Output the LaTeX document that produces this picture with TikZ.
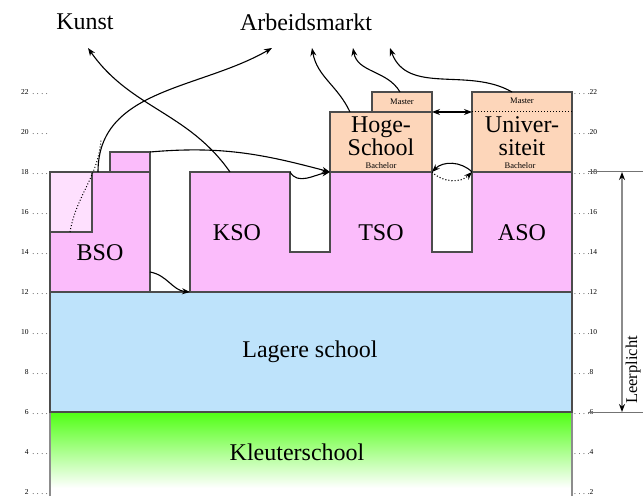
\documentclass[tikz,border=0pt]{standalone}
\usepackage{fontspec}
\setmainfont{Liberation Serif}
\usetikzlibrary{arrows.meta}

\definecolor{sopink}{RGB}{251,188,251}
\definecolor{solicht}{RGB}{254,224,254}
\definecolor{lagerblauw}{RGB}{190,227,251}
\definecolor{kleutergroen}{RGB}{80,255,20}
\definecolor{hogerzalm}{RGB}{253,214,186}
\newcommand{\groot}{\fontsize{24}{23}\selectfont}
\newcommand{\klein}{\fontsize{7.5}{8}\selectfont}
\newcommand{\mini}{\fontsize{8.5}{9}\selectfont}
\newcommand{\tickdots}{.\hspace{2.6pt}.\hspace{2.6pt}.\hspace{2.6pt}.}

\tikzset{
  blok/.style={draw=black!70, line width=1.3pt},
  pijl/.style={-{Stealth[length=8pt,width=6pt]}, line width=1.1pt},
  dubbel/.style={{Stealth[length=8pt,width=6pt]}-{Stealth[length=8pt,width=6pt]}, line width=1.1pt},
  stippel/.style={dotted, line width=1pt},
}

\begin{document}
\begin{tikzpicture}[x=20pt, y=20pt]
\useasboundingbox (0,1.8) rectangle (32.15,26.6);
\fill[white] (0,1.8) rectangle (32.15,26.6);

% kleuterschool, van groen naar wit
\shade[top color=kleutergroen, bottom color=white] (2.5,2.2) rectangle (28.6,6);
\draw[black!45, line width=1.2pt] (2.5,1.8) -- (2.5,6);
\draw[black!45, line width=1.2pt] (28.6,1.8) -- (28.6,6);

% lagere school
\draw[blok, fill=lagerblauw] (2.5,6) rectangle (28.6,12);

% secundair onderwijs
\draw[blok, fill=sopink] (2.5,12) rectangle (7.5,18);
\draw[blok, fill=solicht] (2.5,15) rectangle (4.6,18);
\draw[blok, fill=sopink] (5.5,18) rectangle (7.5,19);
\draw[blok, fill=sopink] (9.5,12) -- (28.6,12) -- (28.6,18) -- (23.6,18) -- (23.6,14) -- (21.6,14)
  -- (21.6,18) -- (16.5,18) -- (16.5,14) -- (14.5,14) -- (14.5,18) -- (9.5,18) -- cycle;

% hoger onderwijs
\draw[blok, fill=hogerzalm] (16.5,18) rectangle (21.6,21);
\draw[blok, fill=hogerzalm] (18.6,21) rectangle (21.6,22);
\draw[blok, fill=hogerzalm] (23.6,18) rectangle (28.6,22);
\draw[stippel] (23.6,21) -- (28.6,21);

% jaren links en rechts
\foreach \j in {2,4,...,22} {
  \node[font=\klein, anchor=east, inner sep=1pt] (links\j) at (2.45,\j) {\j\hspace{4pt}\tickdots};
  \node[font=\klein, anchor=west, inner sep=1pt] (rechts\j) at (28.65,\j) {\tickdots\j};
}

% teksten
\node[font=\groot] (kunst) at (4.25,25.5) {Kunst};
\node[font=\groot] (arbeid) at (15.3,25.5) {Arbeidsmarkt};
\node[font=\groot] (kleuter) at (14.85,4) {Kleuterschool};
\node[font=\groot] (lager) at (15.5,9) {Lagere school};
\node[font=\groot] (bso) at (5,13.95) {BSO};
\node[font=\groot] (kso) at (11.85,14.95) {KSO};
\node[font=\groot] (tso) at (19.05,14.95) {TSO};
\node[font=\groot] (aso) at (26.1,14.95) {ASO};
\node[font=\groot, align=center, inner sep=0pt] (hs) at (19.05,19.8) {Hoge-\\School};
\node[font=\groot, align=center, inner sep=0pt] (uni) at (26.1,19.8) {Univer-\\siteit};
\node[font=\mini, inner sep=0pt] (hsba) at (19.05,18.3) {Bachelor};
\node[font=\mini, inner sep=0pt] (uniba) at (26.0,18.3) {Bachelor};
\node[font=\mini, inner sep=0pt] (hsma) at (20.1,21.5) {Master};
\node[font=\mini, inner sep=0pt] (unima) at (26.1,21.55) {Master};
\node[font=\fontsize{16.5}{17}\selectfont, rotate=90, inner sep=0pt] (leerplicht) at (31.66,8.1) {Leerplicht};

% punten voor de pijlen
\coordinate (kunst pijl) at (4.4,24.2);
\coordinate (am1) at (13.6,24.2);
\coordinate (am2) at (15.6,24.2);
\coordinate (am3) at (17.65,24.2);
\coordinate (am4) at (19.5,24.2);
\coordinate (kso top) at (11.5,18);
\coordinate (bso top) at (4.9,18);
\coordinate (bso licht) at (3.5,15);
\coordinate (bso samen) at (5.05,19.6);
\coordinate (bso extra) at (7.5,19);
\coordinate (bso zijkant) at (7.5,13);
\coordinate (kso voet) at (9.5,12);
\coordinate (kso hoek) at (14.5,18);
\coordinate (hs hoek) at (16.5,18);
\coordinate (hs top) at (17.5,21);
\coordinate (hsm top) at (20,22);
\coordinate (uni top) at (25.6,22);
\coordinate (hsm rechts) at (21.6,21);
\coordinate (uni links) at (23.6,21);
\coordinate (hs rechtsonder) at (21.6,18);
\coordinate (uni linksonder) at (23.6,18);

% doorstroming
\draw[pijl] (kso top) to[out=125, in=-55] (kunst pijl);
\draw[pijl] (bso top) to[out=90, in=-150] (am1);
\draw[stippel] (bso licht) to[out=80, in=-95] (bso samen);
\draw[pijl] (bso extra) to[out=5, in=165] (hs hoek);
\draw[pijl] (kso hoek) to[out=-60, in=190] (hs hoek);
\draw[pijl] (bso zijkant) to[out=-10, in=175] (kso voet);
\draw[pijl] (hs top) to[out=115, in=-80] (am2);
\draw[pijl] (hsm top) to[out=120, in=-80] (am3);
\draw[pijl] (uni top) to[out=150, in=-70] (am4);
\draw[dubbel] (hsm rechts) -- (uni links);
\draw[pijl] (uni linksonder) to[out=135, in=45] (hs rechtsonder);
\draw[pijl, dotted] (hs rechtsonder) to[out=-45, in=-135] (uni linksonder);

% leerplicht
\coordinate (lp boven) at (31.1,18);
\coordinate (lp onder) at (31.1,6);
\draw[black!55, line width=1pt] (29.4,18) -- (32.15,18);
\draw[black!55, line width=1pt] (29.4,6) -- (32.15,6);
\draw[black!45, line width=1.6pt, {Stealth[black,length=8pt,width=6pt]}-{Stealth[black,length=8pt,width=6pt]}] (lp boven) -- (lp onder);
\end{tikzpicture}
\end{document}
